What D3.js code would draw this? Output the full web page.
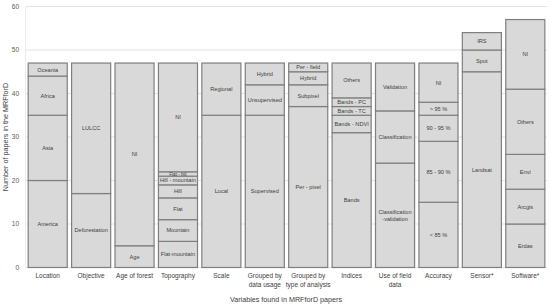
<!DOCTYPE html>
<html>
<head>
<meta charset="utf-8">
<script src="https://cdn.jsdelivr.net/npm/d3@7"></script>
<style>
  html, body { margin: 0; padding: 0; background: #fff; }
  svg { display: block; font-family: "Liberation Sans", Arial, sans-serif; }
</style>
</head>
<body>
<div id="chart"></div>
<script>
// categorias (eixo x)
const categories = [
  "Location", "Objective", "Age of forest", "Topography", "Scale",
  "Grouped by\ndata usage", "Grouped by\ntype of analysis", "Indices",
  "Use of field\ndata", "Accuracy", "Sensor*", "Software*"
];

// segmentos de baixo para cima
const segmentLabels = [
  ["America", "Asia", "Africa", "Oceania"],
  ["Deforestation", "LULCC"],
  ["Age", "NI"],
  ["Flat-mountain", "Mountain", "Flat", "Hill", "Hill - mountain", "Flat - hill", "NI"],
  ["Local", "Regional"],
  ["Supervised", "Unsupervised", "Hybrid"],
  ["Per - pixel", "Subpixel", "Hybrid", "Per - field"],
  ["Bands", "Bands - NDVI", "Bands - TC", "Bands - PC", "Others"],
  ["Classification\n-validation", "Classification", "Validation"],
  ["< 85 %", "85 - 90 %", "90 - 95 %", "> 95 %", "NI"],
  ["Landsat", "Spot", "IRS"],
  ["Erdas", "Arcgis", "Envi", "Others", "NI"]
];

const segmentValues = [
  [20, 15, 9, 3],
  [17, 30],
  [5, 42],
  [6, 5, 5, 3, 2, 1, 25],
  [35, 12],
  [35, 7, 5],
  [37, 5, 3, 2],
  [31, 4, 2, 2, 8],
  [24, 12, 11],
  [15, 14, 6, 3, 9],
  [45, 5, 4],
  [10, 8, 8, 15, 16]
];

const yTicks = [0, 10, 20, 30, 40, 50, 60];

const width = 550, height = 306;
const svg = d3.select("#chart").append("svg")
  .attr("width", width)
  .attr("height", height);

const x = d3.scaleBand()
  .domain(categories)
  .range([26, 547])
  .paddingInner(0.1)
  .paddingOuter(0.05);

const y = d3.scaleLinear()
  .domain([0, 60])
  .range([267.5, 6.5]);

// grade
svg.append("g")
  .selectAll("line")
  .data(yTicks)
  .join("line")
  .attr("x1", 26)
  .attr("x2", 547)
  .attr("y1", d => y(d))
  .attr("y2", d => y(d))
  .attr("stroke", "#e3e3e3")
  .attr("stroke-width", 1);

svg.append("line")
  .attr("x1", 25.5).attr("x2", 25.5)
  .attr("y1", y(60)).attr("y2", y(0))
  .attr("stroke", "#ececec");

// rótulos do eixo y
svg.append("g")
  .selectAll("text")
  .data(yTicks)
  .join("text")
  .attr("x", 19)
  .attr("y", d => y(d))
  .attr("dy", "0.35em")
  .attr("text-anchor", "end")
  .attr("font-size", 6.5)
  .attr("fill", "#595959")
  .text(d => d);

// barras empilhadas
categories.forEach((cat, i) => {
  const vals = segmentValues[i];
  const labs = segmentLabels[i];
  let base = 0;
  const g = svg.append("g");
  vals.forEach((v, j) => {
    const y0 = y(base), y1 = y(base + v);
    const h = y0 - y1;
    g.append("rect")
      .attr("x", x(cat))
      .attr("y", y1)
      .attr("width", x.bandwidth())
      .attr("height", h)
      .attr("fill", "#d9d9d9")
      .attr("stroke", "#7f7f7f")
      .attr("stroke-width", 1.2);

    const lines = labs[j].split("\n");
    const fs = h < 6 ? 4.6 : 5.6;
    const t = g.append("text")
      .attr("x", x(cat) + x.bandwidth() / 2)
      .attr("y", (y0 + y1) / 2 - (lines.length - 1) * fs * 0.6)
      .attr("text-anchor", "middle")
      .attr("font-size", fs)
      .attr("fill", "#404040");
    lines.forEach((ln, k) => {
      t.append("tspan")
        .attr("x", x(cat) + x.bandwidth() / 2)
        .attr("dy", k === 0 ? "0.35em" : "1.2em")
        .text(ln);
    });
    base += v;
  });
});

// rótulos do eixo x
svg.append("g")
  .selectAll("text")
  .data(categories)
  .join("text")
  .attr("x", d => x(d) + x.bandwidth() / 2)
  .attr("y", 278)
  .attr("text-anchor", "middle")
  .attr("font-size", 6.5)
  .attr("fill", "#404040")
  .each(function(d) {
    const el = d3.select(this);
    d.split("\n").forEach((ln, k) => {
      el.append("tspan")
        .attr("x", x(d) + x.bandwidth() / 2)
        .attr("dy", k === 0 ? 0 : 8.5)
        .text(ln);
    });
  });

// títulos dos eixos
svg.append("text")
  .attr("x", 286)
  .attr("y", 302)
  .attr("text-anchor", "middle")
  .attr("font-size", 7.2)
  .attr("fill", "#404040")
  .text("Variables found in MRFforD papers");

svg.append("text")
  .attr("transform", "translate(8,137) rotate(-90)")
  .attr("text-anchor", "middle")
  .attr("font-size", 7.2)
  .attr("fill", "#404040")
  .text("Number of papers in the MRFforD");
</script>
</body>
</html>
